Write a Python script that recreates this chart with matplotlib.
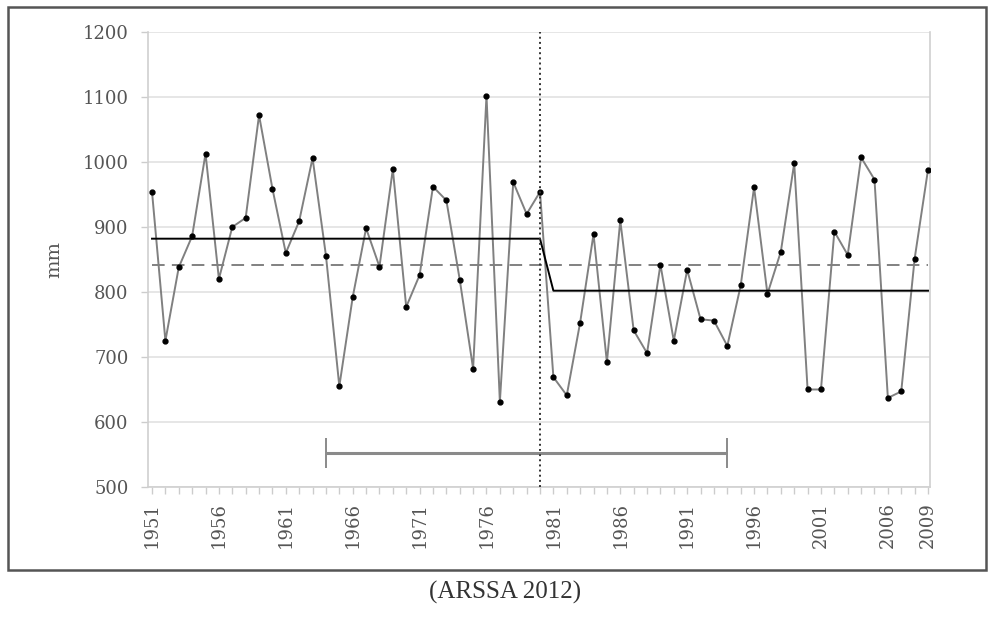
import numpy as np
import matplotlib.pyplot as plt
from matplotlib.patches import Rectangle

# annual rainfall, mm
years = list(range(1951, 2010))
rain = [954, 725, 838, 886, 1013, 820, 900, 914, 1072, 959,
        860, 909, 1006, 856, 655, 792, 898, 839, 989, 777,
        826, 962, 941, 819, 682, 1102, 631, 969, 920, 954,
        669, 641, 753, 889, 692, 910, 741, 706, 842, 725,
        834, 758, 756, 717, 810, 961, 797, 862, 998, 650,
        650, 893, 857, 1007, 973, 637, 647, 851, 988]

break_year = 1980
mean_before = 882
mean_after = 802
mean_all = 842
span_years = [1964, 1994]
span_level = 552
tick_years = [1951, 1956, 1961, 1966, 1971, 1976, 1981, 1986, 1991, 1996, 2001, 2006, 2009]

plt.rcParams['font.family'] = ['DejaVu Serif']

fig = plt.figure(figsize=(9.88, 6.21), dpi=100)
ax = fig.add_axes([0.1498, 0.2158, 0.9413 - 0.1498, 0.9485 - 0.2158])

fig.patches.append(Rectangle((0.0081, 0.0821), 0.99, 0.9066, transform=fig.transFigure,
                             fill=False, edgecolor='#555555', linewidth=1.8))

ax.yaxis.grid(True, color='#e2e2e2', linewidth=1.2)
ax.set_axisbelow(True)

ax.plot(years, rain, color='#808080', linewidth=1.4, marker='o', markersize=3.5,
        markerfacecolor='black', markeredgecolor='black', zorder=3)

ax.plot([years[0], break_year, break_year + 1, years[-1]],
        [mean_before, mean_before, mean_after, mean_after],
        color='black', linewidth=1.4, zorder=4)
ax.plot([years[0], years[-1]], [mean_all, mean_all], color='#777777',
        linewidth=1.3, dashes=(7, 4), zorder=2)

ax.axvline(break_year, color='#333333', linewidth=1.4, linestyle=':', zorder=5)

ax.errorbar([np.mean(span_years)], [span_level], xerr=[(span_years[1] - span_years[0]) / 2],
            fmt='none', ecolor='#8a8a8a', elinewidth=2.2, capsize=11, capthick=1.4, zorder=3)

ax.set_xlim(1950.7, 2009.15)
ax.set_ylim(500, 1200)
ax.set_yticks(range(500, 1201, 100))
ax.set_xticks(years)
ax.set_xticklabels([str(y) if y in tick_years else '' for y in years], rotation=90)

for s in ['left', 'right', 'bottom']:
    ax.spines[s].set_color('#d0d0d0')
    ax.spines[s].set_linewidth(1.2)
ax.spines['top'].set_visible(False)
ax.tick_params(axis='both', colors='#cccccc', labelcolor='#555555', labelsize=13,
               length=5, width=1)
ax.tick_params(axis='y', pad=9)
ax.tick_params(axis='x', pad=6)

ax.set_ylabel('mm', color='#555555', fontsize=14, labelpad=14)

fig.text(0.511, 0.028, '(ARSSA 2012)', family='Liberation Serif', fontsize=18,
         color='#333333', ha='center', va='bottom')

fig.savefig('out.png', dpi=100)
